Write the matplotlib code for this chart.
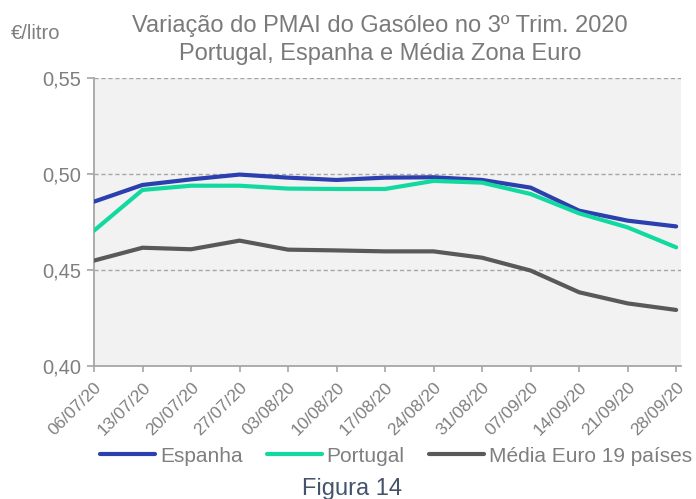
import matplotlib
matplotlib.use("Agg")
import matplotlib.pyplot as plt
from matplotlib.ticker import FuncFormatter

plt.rcParams['font.family'] = ['Liberation Sans', 'DejaVu Sans']

dates = ["06/07/20", "13/07/20", "20/07/20", "27/07/20", "03/08/20", "10/08/20",
         "17/08/20", "24/08/20", "31/08/20", "07/09/20", "14/09/20", "21/09/20", "28/09/20"]
espanha = [0.4856, 0.4943, 0.4972, 0.4997, 0.4981, 0.4969, 0.4981, 0.4983,
           0.4969, 0.4929, 0.4809, 0.4757, 0.4727]
portugal = [0.4705, 0.4917, 0.4939, 0.4939, 0.4924, 0.4922, 0.4922, 0.4964,
            0.4955, 0.4896, 0.4795, 0.4722, 0.4618]
media_euro = [0.4549, 0.4616, 0.4608, 0.4653, 0.4606, 0.4602, 0.4597, 0.4597,
              0.4564, 0.4497, 0.4384, 0.4326, 0.4292]
yticks = [0.40, 0.45, 0.50, 0.55]

series = [("Espanha", espanha, "#2B3FAE"),
          ("Portugal", portugal, "#12D9A0"),
          ("Média Euro 19 países", media_euro, "#595959")]

GRAY_TXT = "#7F7F7F"
AX_GRAY = "#A6A6A6"

fig = plt.figure(figsize=(6.96, 4.99), dpi=100)
ax = fig.add_axes([94/696, 1-366/499, (681-94)/696, (366-78)/499])
ax.set_facecolor("#F2F2F2")

x = list(range(len(dates)))
handles = []
for name, vals, col in series:
    h, = ax.plot(x, vals, color=col, lw=3.0, solid_capstyle='round', label=name, zorder=3)
    handles.append(h)

ax.set_xlim(0, len(dates) - 1 + 0.1)
ax.set_ylim(0.40, 0.55)
ax.set_yticks(yticks)
ax.yaxis.set_major_formatter(FuncFormatter(lambda v, p: f"{v:.2f}".replace(".", ",")))
for yv in yticks[1:]:
    ax.axhline(yv, color=AX_GRAY, lw=1.0, ls=(0, (3, 2)), zorder=1)

ax.set_xticks(x)
ax.set_xticklabels(dates, rotation=45, ha='right', va='top', rotation_mode='anchor')

for s in ['top', 'right']:
    ax.spines[s].set_visible(False)
for s in ['left', 'bottom']:
    ax.spines[s].set_color(AX_GRAY)
    ax.spines[s].set_linewidth(1.3)

ax.tick_params(axis='y', colors=AX_GRAY, labelcolor=GRAY_TXT, labelsize=14.5, length=5, width=1.2, pad=4)
ax.tick_params(axis='x', colors=AX_GRAY, labelcolor=GRAY_TXT, labelsize=12.5, length=4, width=1.2, pad=6)

fig.text(380/696, 1-32/499, "Variação do PMAI do Gasóleo no 3º Trim. 2020",
         ha='center', va='baseline', fontsize=17, color="#7A7A7A")
fig.text(380/696, 1-60/499, "Portugal, Espanha e Média Zona Euro",
         ha='center', va='baseline', fontsize=17, color="#7A7A7A")
fig.text(11/696, 1-39/499, "€/litro", ha='left', va='baseline', fontsize=14.5, color=GRAY_TXT)

leg = fig.legend(handles=handles, loc='center', bbox_to_anchor=(396/696, 1-456/499),
                 ncol=3, frameon=False, fontsize=15, handlelength=2.64, handletextpad=0.24,
                 columnspacing=1.15, borderaxespad=0, borderpad=0)
for t in leg.get_texts():
    t.set_color(GRAY_TXT)

fig.text(352/696, 1-495/499, "Figura 14", ha='center', va='baseline', fontsize=17, color="#44546A")

fig.savefig("out.png", dpi=100)
